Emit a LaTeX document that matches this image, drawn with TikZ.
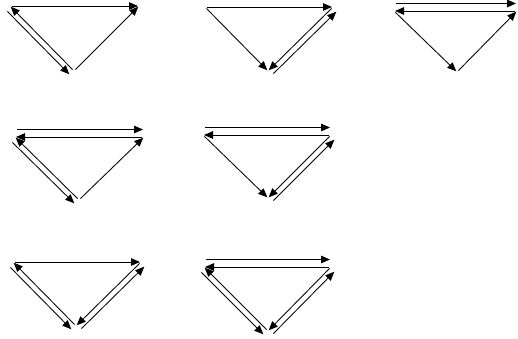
\documentclass[tikz,border=0pt]{standalone}
\usetikzlibrary{arrows.meta}

\begin{document}
\begin{tikzpicture}[x=1pt,y=-1pt,
  arc/.style={-{Triangle[length=9pt,width=7.5pt]},line width=0.85pt,shorten <=2pt,shorten >=1pt},
  tout/.style={yshift=7.5pt},
  lout/.style={xshift=-4pt,yshift=-4pt},
  rout/.style={xshift=4pt,yshift=-4pt}]
  \useasboundingbox (0,0) rectangle (518,339);
  % corners of the seven triangles
  \coordinate (a1) at (10,6);    \coordinate (b1) at (139,6);   \coordinate (c1) at (74,71);
  \coordinate (a2) at (205,7);   \coordinate (b2) at (333,7);   \coordinate (c2) at (268,71);
  \coordinate (a3) at (394,11);  \coordinate (b3) at (517,11);  \coordinate (c3) at (457,72);
  \coordinate (a4) at (15,137);  \coordinate (b4) at (144,137); \coordinate (c4) at (79,200);
  \coordinate (a5) at (203,135); \coordinate (b5) at (331,135); \coordinate (c5) at (268,198);
  \coordinate (a6) at (13,262);  \coordinate (b6) at (141,262); \coordinate (c6) at (76,326);
  \coordinate (a7) at (204,267); \coordinate (b7) at (331,267); \coordinate (c7) at (268,331);
  % top row
  \draw[arc] (a1) -- (b1);
  \draw[arc] (c1) -- (b1);
  \draw[arc] (c1) -- (a1);
  \draw[arc] ([lout]a1) -- ([lout]c1);
  \draw[arc] (a2) -- (b2);
  \draw[arc] (a2) -- (c2);
  \draw[arc] (b2) -- (c2);
  \draw[arc] ([rout]c2) -- ([rout]b2);
  \draw[arc] ([tout]a3) -- ([tout]b3);
  \draw[arc] (b3) -- (a3);
  \draw[arc] (a3) -- (c3);
  \draw[arc] (c3) -- (b3);
  % middle row
  \draw[arc] ([tout]a4) -- ([tout]b4);
  \draw[arc] (b4) -- (a4);
  \draw[arc] (c4) -- (a4);
  \draw[arc] ([lout]a4) -- ([lout]c4);
  \draw[arc] (c4) -- (b4);
  \draw[arc] ([tout]a5) -- ([tout]b5);
  \draw[arc] (b5) -- (a5);
  \draw[arc] (a5) -- (c5);
  \draw[arc] (b5) -- (c5);
  \draw[arc] ([rout]c5) -- ([rout]b5);
  % bottom row
  \draw[arc] (a6) -- (b6);
  \draw[arc] (c6) -- (a6);
  \draw[arc] ([lout]a6) -- ([lout]c6);
  \draw[arc] (b6) -- (c6);
  \draw[arc] ([rout]c6) -- ([rout]b6);
  \draw[arc] ([tout]a7) -- ([tout]b7);
  \draw[arc] (b7) -- (a7);
  \draw[arc] (c7) -- (a7);
  \draw[arc] ([lout]a7) -- ([lout]c7);
  \draw[arc] (b7) -- (c7);
  \draw[arc] ([rout]c7) -- ([rout]b7);
\end{tikzpicture}
\end{document}
